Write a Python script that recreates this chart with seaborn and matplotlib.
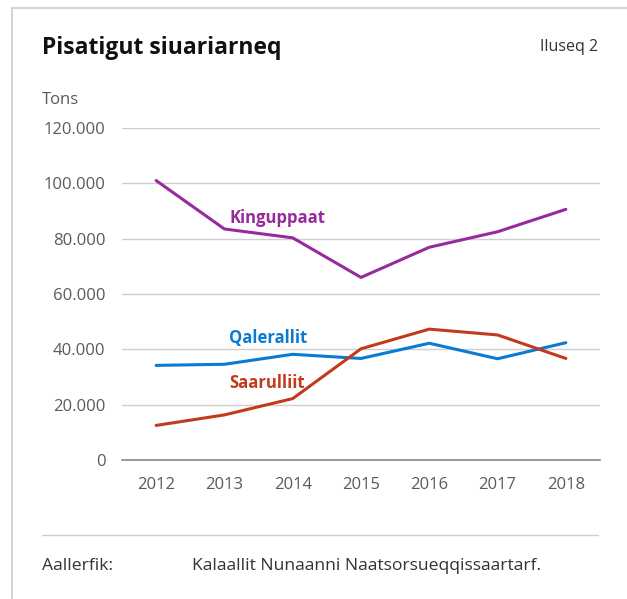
import pandas as pd
import matplotlib.pyplot as plt
import seaborn as sns
from matplotlib.ticker import FuncFormatter, FixedLocator
from matplotlib.lines import Line2D

# chart data (tons)
years = [2012, 2013, 2014, 2015, 2016, 2017, 2018]
kinguppaat = [101000, 83500, 80300, 66000, 76900, 82500, 90600]
qalerallit = [34200, 34600, 38200, 36700, 42200, 36600, 42400]
saarulliit = [12500, 16300, 22200, 40200, 47300, 45200, 36700]

series_names = ['Kinguppaat', 'Qalerallit', 'Saarulliit']
series_colors = ['#972A9C', '#0A7AD2', '#C23A1C']

sns.set_theme(style='white')
plt.rcParams['font.family'] = ['Open Sans', 'DejaVu Sans']

df = pd.DataFrame({
    'year': years * 3,
    'tons': kinguppaat + qalerallit + saarulliit,
    'series': [n for n in series_names for _ in years],
})

fig = plt.figure(figsize=(6.27, 5.99), dpi=100)
W, H = 627, 599
ax = fig.add_axes([122 / W, 1 - 460 / H, (600 - 122) / W, (460 - 128) / H])

sns.lineplot(data=df, x='year', y='tons', hue='series',
             palette=dict(zip(series_names, series_colors)),
             linewidth=2.2, legend=False, ax=ax)

ax.set_xlim(2011.5, 2018.5)
ax.set_ylim(0, 120000)
ax.set_yticks(range(0, 120001, 20000))
ax.yaxis.set_major_formatter(FuncFormatter(lambda v, p: f'{int(v):,}'.replace(',', '.')))
ax.set_xticks(years)
ax.xaxis.set_minor_locator(FixedLocator([y - 0.5 for y in years]))
ax.set_xlabel('')
ax.set_ylabel('')

for s in ['top', 'right', 'left']:
    ax.spines[s].set_visible(False)
ax.spines['bottom'].set_color('#8a8a8a')
ax.spines['bottom'].set_linewidth(1.2)

ax.grid(axis='y', color='#cfcfcf', linewidth=1)
ax.grid(axis='x', visible=False)
ax.set_axisbelow(True)

ax.tick_params(axis='y', length=0, pad=12, labelsize=12, labelcolor='#5a5a5a')
ax.tick_params(axis='x', which='major', length=0, pad=12, labelsize=12, labelcolor='#5a5a5a')
ax.tick_params(axis='x', which='minor', length=6, width=1.2, color='#8a8a8a', direction='out')

# series labels
ax.text(2013.07, 87500, 'Kinguppaat', color=series_colors[0], fontsize=12, fontweight='bold', va='center')
ax.text(2013.07, 44000, 'Qalerallit', color=series_colors[1], fontsize=12, fontweight='bold', va='center')
ax.text(2013.07, 28000, 'Saarulliit', color=series_colors[2], fontsize=12, fontweight='bold', va='center')

# titles and footer
fig.text(42 / W, 1 - 48 / H, 'Pisatigut siuariarneq', fontsize=16.5, fontweight='bold',
         color='#111111', va='center', ha='left')
fig.text(598 / W, 1 - 47 / H, 'Iluseq 2', fontsize=11.5, color='#333333', va='center', ha='right')
fig.text(42 / W, 1 - 100 / H, 'Tons', fontsize=12, color='#5a5a5a', va='center', ha='left')

fig.add_artist(Line2D([42 / W, 598 / W], [1 - 535 / H, 1 - 535 / H], color='#cfcfcf', linewidth=1))
fig.text(42 / W, 1 - 566 / H, 'Aallerfik:', fontsize=12.6, color='#333333', va='center', ha='left')
fig.text(192 / W, 1 - 566 / H, 'Kalaallit Nunaanni Naatsorsueqqissaartarf.', fontsize=12.6,
         color='#333333', va='center', ha='left')

# card frame
fig.add_artist(Line2D([12 / W, 1], [1 - 8 / H, 1 - 8 / H], color='#cccccc', linewidth=1.2))
fig.add_artist(Line2D([12 / W, 12 / W], [0, 1 - 8 / H], color='#cccccc', linewidth=1.2))

fig.savefig('out.png', dpi=100)
